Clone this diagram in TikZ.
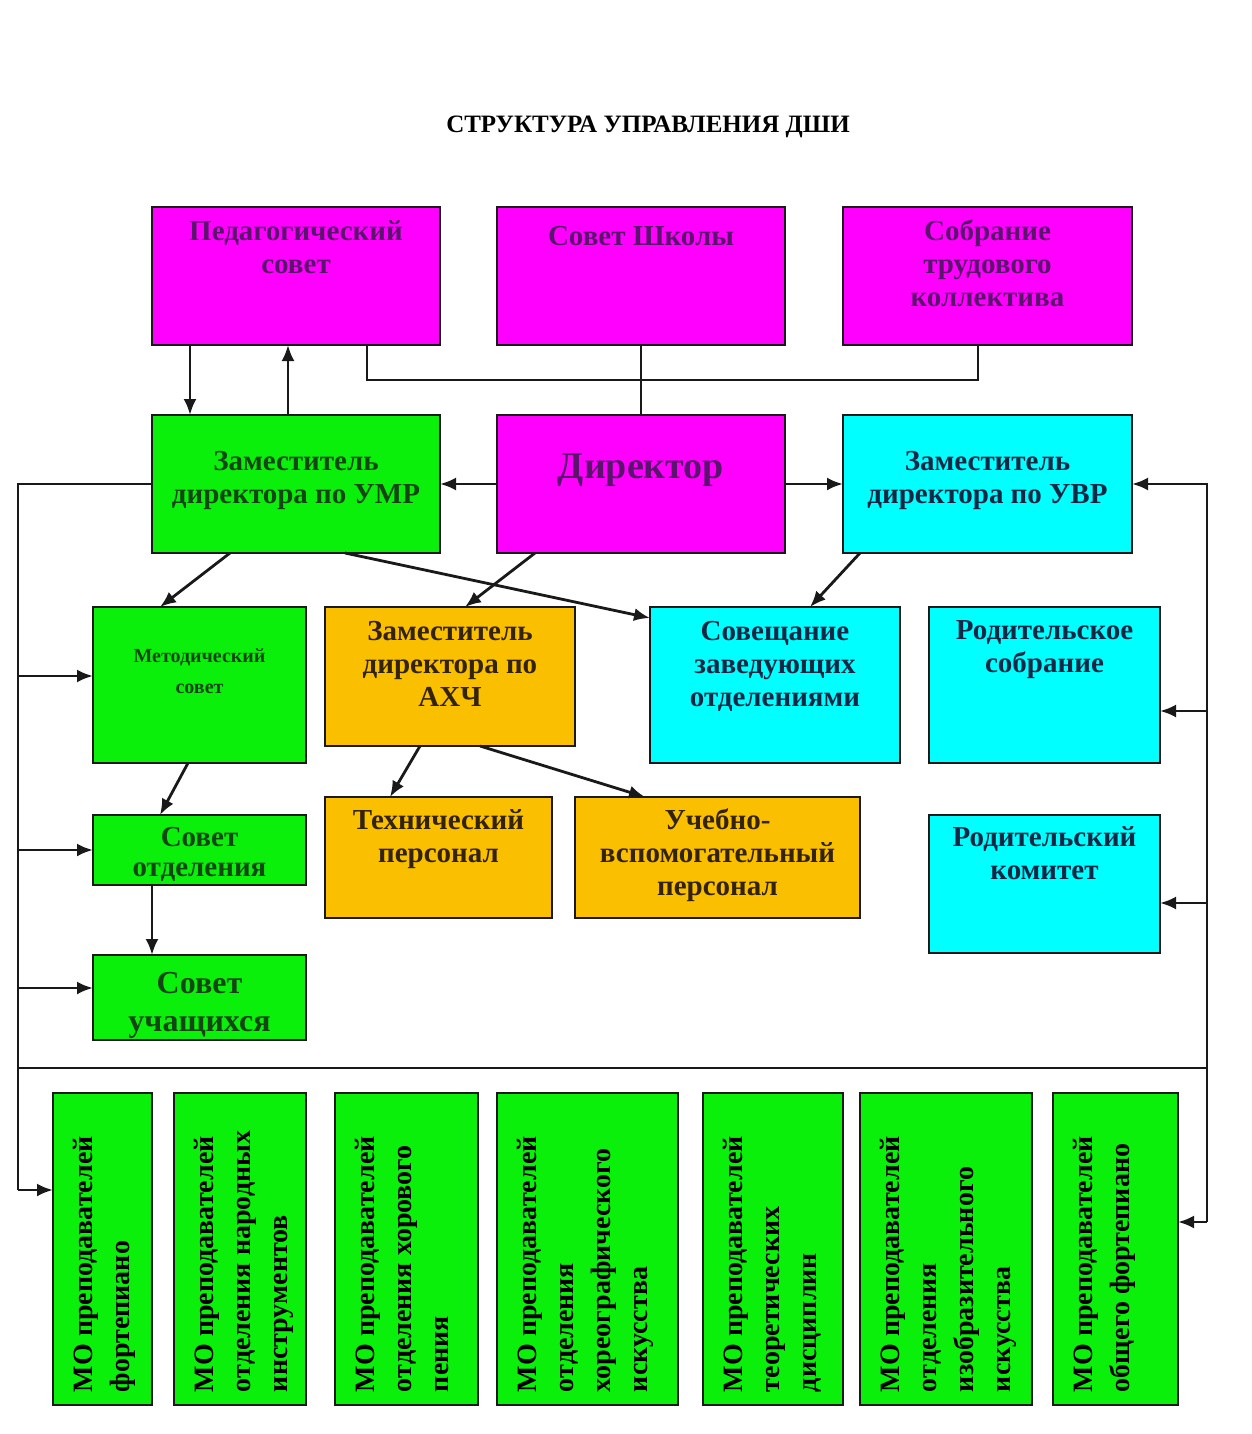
\documentclass[tikz,border=0pt]{standalone}
\usepackage{fontspec}
\setmainfont{Liberation Serif}
\usetikzlibrary{arrows.meta,calc}
\definecolor{mg}{RGB}{255,0,255}
\definecolor{gr}{RGB}{10,240,10}
\definecolor{cy}{RGB}{0,255,255}
\definecolor{og}{RGB}{250,192,0}
\definecolor{tmg}{RGB}{90,20,110}
\definecolor{tgr}{RGB}{20,70,20}
\definecolor{tcy}{RGB}{20,40,70}
\definecolor{tog}{RGB}{50,35,10}
\definecolor{ln}{RGB}{25,25,25}
\newcommand{\bxt}[4]{\parbox[c][#2][t]{#1}{\centering\vspace*{#3}#4\par}}
\newcommand{\rbx}[3]{\parbox[c][#2][t]{312pt}{\raggedright\leftskip=13pt\vspace*{20pt}#3\par}}
\tikzset{
  bx/.style={draw=ln, line width=2.8pt, inner sep=0pt, outer sep=0pt, anchor=north west,
    font=\bfseries\fontsize{29}{33}\selectfont},
  mgb/.style={bx, fill=mg, text=tmg},
  grb/.style={bx, fill=gr, text=tgr},
  cyb/.style={bx, fill=cy, text=tcy},
  ogb/.style={bx, fill=og, text=tog},
  mob/.style={draw=ln, line width=2.8pt, inner sep=0pt, outer sep=0pt, fill=gr, text=black,
    rotate=90, anchor=center, font=\bfseries\fontsize{28}{37}\selectfont},
  con/.style={line width=2.8pt, draw=ln},
  arr/.style={con, -{Latex[length=16pt,width=13pt]}},
}
\begin{document}
\begin{tikzpicture}[x=1pt,y=-1pt]
\useasboundingbox[fill=white] (0,0) rectangle (1252,1434);
\node[font=\bfseries\fontsize{25}{28}\selectfont] (title) at (648,127) {СТРУКТУРА УПРАВЛЕНИЯ ДШИ};
% top row
\node[mgb] (ped) at (152,207) {\bxt{288pt}{138pt}{14pt}{Педагогический\\совет}};
\node[mgb] (shk) at (497,207) {\bxt{288pt}{138pt}{19pt}{Совет Школы}};
\node[mgb] (sob) at (843,207) {\bxt{289pt}{138pt}{13pt}{Собрание\\трудового\\коллектива}};
% second row
\node[grb] (umr) at (152,415) {\bxt{288pt}{138pt}{36pt}{Заместитель\\директора по УМР}};
\node[mgb, font=\bfseries\fontsize{38}{40}\selectfont] (dir) at (497,415) {\bxt{288pt}{138pt}{39pt}{Директор}};
\node[cyb] (uvr) at (843,415) {\bxt{289pt}{138pt}{36pt}{Заместитель\\директора по УВР}};
% third row
\node[grb, font=\bfseries\fontsize{20}{31}\selectfont] (met) at (93,607) {\bxt{213pt}{156pt}{42pt}{Методический\\совет}};
\node[ogb] (ahch) at (325,607) {\bxt{250pt}{139pt}{14pt}{Заместитель\\директора по\\АХЧ}};
\node[cyb] (sov) at (650,607) {\bxt{250pt}{156pt}{14pt}{Совещание\\заведующих\\отделениями}};
\node[cyb] (rsob) at (929,607) {\bxt{231pt}{156pt}{14pt}{Родительское\\собрание}};
% fourth row
\node[grb, font=\bfseries\fontsize{29}{30}\selectfont] (sotd) at (93,815) {\bxt{213pt}{70pt}{12pt}{Совет\\отделения}};
\node[ogb] (tech) at (325,797) {\bxt{227pt}{121pt}{13pt}{Технический\\персонал}};
\node[ogb] (uch) at (575,797) {\bxt{285pt}{121pt}{12pt}{Учебно-\\вспомогательный\\персонал}};
\node[cyb] (rkom) at (929,815) {\bxt{231pt}{138pt}{12pt}{Родительский\\комитет}};
\node[grb, font=\bfseries\fontsize{32}{38}\selectfont] (suc) at (93,955) {\bxt{213pt}{85pt}{17pt}{Совет\\учащихся}};
% bottom row
\node[mob] (m1) at (102.5,1249) {\rbx{}{99pt}{МО преподавателей\\фортепиано}};
\node[mob] (m2) at (240,1249) {\rbx{}{132pt}{МО преподавателей\\отделения народных\\инструментов}};
\node[mob] (m3) at (406.5,1249) {\rbx{}{143pt}{МО преподавателей\\отделения хорового\\пения}};
\node[mob] (m4) at (587.5,1249) {\rbx{}{181pt}{МО преподавателей\\отделения\\хореографического\\искусства}};
\node[mob] (m5) at (773,1249) {\rbx{}{140pt}{МО преподавателей\\теоретических\\дисциплин}};
\node[mob] (m6) at (946,1249) {\rbx{}{172pt}{МО преподавателей\\отделения\\изобразительного\\искусства}};
\node[mob] (m7) at (1115.5,1249) {\rbx{}{125pt}{МО преподавателей\\общего фортепиано}};
% bus coordinates
\coordinate (lb2) at (18,1190);
\coordinate (rb2) at (1207,1222);
\coordinate (hl) at (18,1068);
\coordinate (hr) at (1207,1068);
\coordinate (tj) at (651,380);
% top connections
\draw[con] ($(ped.south west)+(215,0)$) |- (tj) -| ($(sob.south west)+(135,0)$);
\draw[con] (shk.south) -- (dir.north);
\draw[arr] ($(ped.south west)+(38,0)$) -- ($(umr.north west)+(38,0)$);
\draw[arr] ($(umr.north west)+(136,0)$) -- ($(ped.south west)+(136,0)$);
\draw[arr] (dir.west) -- (umr.east);
\draw[arr] (dir.east) -- (uvr.west);
% left bus
\draw[con] (umr.west) -| (lb2);
\draw[arr] (lb2) -- (lb2 -| m1.north);
\draw[arr] (18,676) -- (met.west |- 0,676);
\draw[arr] (18,850) -- (sotd.west);
\draw[arr] (18,988) -- (suc.west |- 0,988);
\draw[con] (hl) -- (hr);
% right bus
\draw[arr] (rb2) |- (uvr.east);
\draw[arr] (1207,711) -- (rsob.east |- 0,711);
\draw[arr] (1207,903) -- (rkom.east |- 0,903);
\draw[arr] (rb2) -- (rb2 -| m7.south);
% diagonal arrows
\draw[arr] ($(umr.south west)+(78,0)$) -- ($(met.north west)+(67,0)$);
\draw[arr] ($(umr.south west)+(193,0)$) -- ($(sov.north west)+(0,11)$);
\draw[arr] ($(dir.south west)+(38,0)$) -- ($(ahch.north west)+(140,0)$);
\draw[arr] ($(uvr.south west)+(17,0)$) -- ($(sov.north west)+(160,0)$);
\draw[arr] ($(met.south west)+(95,0)$) -- ($(sotd.north west)+(67,0)$);
\draw[arr] ($(sotd.south west)+(59,0)$) -- ($(suc.north west)+(59,0)$);
\draw[arr] ($(ahch.south west)+(95,0)$) -- ($(tech.north west)+(65,0)$);
\draw[arr] ($(ahch.south west)+(155,0)$) -- ($(uch.north west)+(70,0)$);
\end{tikzpicture}
\end{document}
